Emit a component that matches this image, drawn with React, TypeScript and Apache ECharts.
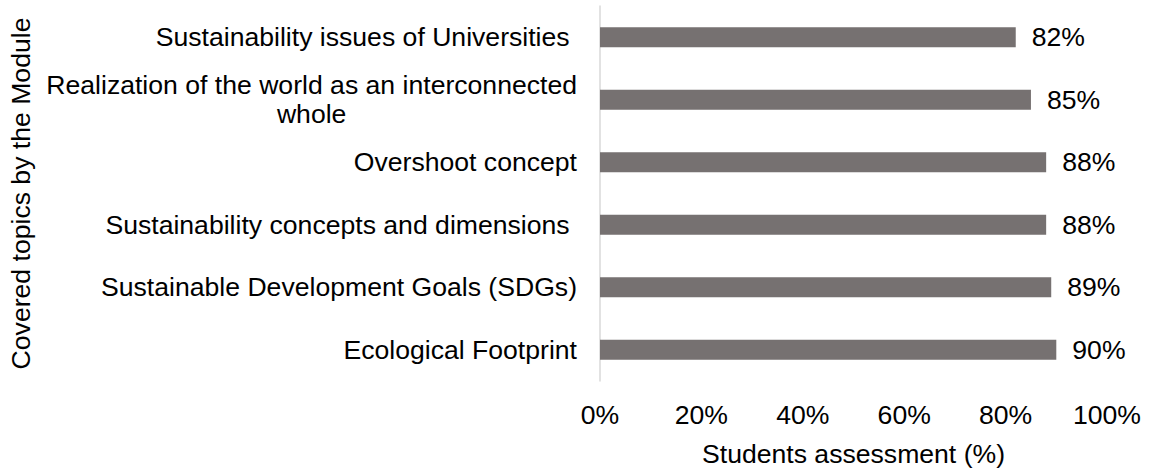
import React, { useEffect, useRef } from "react";
import * as echarts from "echarts";

const categories: string[] = [
  "Ecological Footprint",
  "Sustainable Development Goals (SDGs)",
  "Sustainability concepts and dimensions ",
  "Overshoot concept",
  "Realization of the world as an interconnected\nwhole",
  "Sustainability issues of Universities ",
];
const values: number[] = [90, 89, 88, 88, 85, 82];
const xAxisTitle = "Students assessment (%)";
const yAxisTitle = "Covered topics by the Module";

const FONT = "'Liberation Sans', Arial, Helvetica, sans-serif";
const FS = 26.6;

function measure(text: string): number {
  const c = document.createElement("canvas");
  const ctx = c.getContext("2d");
  if (!ctx) return text.length * FS * 0.5;
  ctx.font = `${FS}px ${FONT}`;
  return ctx.measureText(text).width;
}

export default function App() {
  const ref = useRef<HTMLDivElement>(null);
  useEffect(() => {
    if (!ref.current) return;
    const chart = echarts.init(ref.current, undefined, { renderer: "svg" });
    const multiW = Math.max(
      ...categories
        .filter((c) => c.includes("\n"))
        .flatMap((c) => c.split("\n").map(measure)),
      1
    );
    chart.setOption({
      animation: false,
      backgroundColor: "#ffffff",
      grid: { left: 600, right: 43, top: 6, bottom: 89, containLabel: false },
      xAxis: {
        type: "value",
        min: 0,
        max: 100,
        interval: 20,
        axisLine: { show: false },
        axisTick: { show: false },
        splitLine: { show: false },
        axisLabel: {
          formatter: "{value}%",
          color: "#000000",
          fontSize: FS,
          fontFamily: FONT,
          margin: 20,
        },
        name: xAxisTitle,
        nameLocation: "middle",
        nameGap: 59,
        nameTextStyle: { color: "#000000", fontSize: FS, fontFamily: FONT },
      },
      yAxis: {
        type: "category",
        data: categories,
        axisLine: { show: true, lineStyle: { color: "#d9d9d9", width: 1.5 } },
        axisTick: { show: false },
        splitLine: { show: false },
        axisLabel: {
          color: "#000000",
          fontSize: FS,
          fontFamily: FONT,
          margin: 23,
          lineHeight: 29,
          formatter: (v: string) =>
            v.includes("\n")
              ? v
                  .split("\n")
                  .map((s) => `{c|${s}}`)
                  .join("\n")
              : v,
          rich: {
            c: {
              width: multiW,
              align: "center",
              fontSize: FS,
              fontFamily: FONT,
              color: "#000000",
              lineHeight: 29,
            },
          },
        },
        name: yAxisTitle,
        nameLocation: "middle",
        nameGap: 566,
        nameRotate: 90,
        nameTextStyle: { color: "#000000", fontSize: FS, fontFamily: FONT },
      },
      series: [
        {
          type: "bar",
          data: values,
          barWidth: 20,
          itemStyle: { color: "#767171" },
          label: {
            show: true,
            position: "right",
            distance: 16,
            formatter: "{c}%",
            color: "#000000",
            fontSize: FS,
            fontFamily: FONT,
          },
        },
      ],
    });
    return () => chart.dispose();
  }, []);
  return (
    <div
      ref={ref}
      style={{ position: "fixed", left: 0, top: 0, width: 1150, height: 472, background: "#fff" }}
    />
  );
}
